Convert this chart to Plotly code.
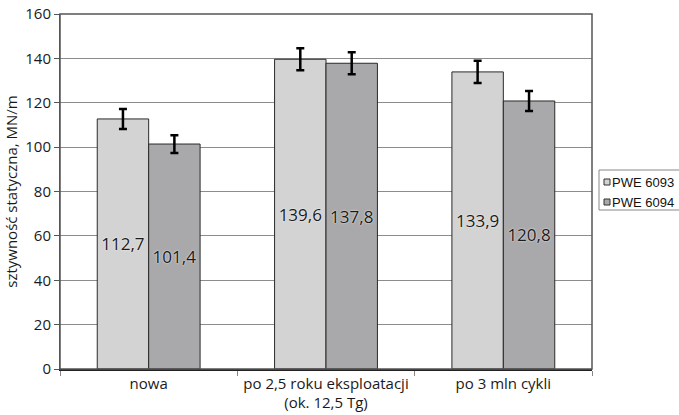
import plotly.graph_objects as go

categories = ["nowa", "po 2,5 roku eksploatacji<br>(ok. 12,5 Tg)", "po 3 mln cykli"]
series_names = ["PWE 6093", "PWE 6094"]
values_6093 = [112.7, 139.6, 133.9]
values_6094 = [101.4, 137.8, 120.8]
errors_6093 = [4.5, 5.0, 5.0]
errors_6094 = [4.0, 5.0, 4.5]
y_ticks = [0, 20, 40, 60, 80, 100, 120, 140, 160]

colors = ["#d3d3d3", "#a9a9ab"]

# plot area in pixels (for placing the hand-made legend in paper coords)
L, R, T, B = 60, 592, 14, 369
def px(x):
    return (x - L) / (R - L)
def py(y):
    return (B - y) / (B - T)

def fmt(v):
    return f"{v:.1f}".replace(".", ",")

fig = go.Figure()
for name, vals, errs, col in [
    (series_names[0], values_6093, errors_6093, colors[0]),
    (series_names[1], values_6094, errors_6094, colors[1]),
]:
    fig.add_trace(go.Bar(
        x=categories, y=vals, name=name, showlegend=False,
        marker=dict(color=col, line=dict(color="#2a2a2a", width=1)),
        error_y=dict(type="data", array=errs, visible=True, color="#000000",
                     thickness=2.5, width=4),
        text=[fmt(v) for v in vals],
        textposition="inside", insidetextanchor="middle",
        textangle=0,
        textfont=dict(family="Open Sans, sans-serif", size=17, color="#1a1a1a",
                      shadow="0px 0px 2px #ffffff"),
    ))

fig.update_layout(
    width=679, height=415,
    margin=dict(l=L, r=679 - R, t=T, b=415 - B, autoexpand=False),
    paper_bgcolor="white", plot_bgcolor="white",
    barmode="group", bargap=0.42, bargroupgap=0,
    font=dict(family="Open Sans, sans-serif", size=15, color="#1a1a1a"),
    showlegend=False,
)
fig.update_xaxes(
    showline=True, linecolor="#222", linewidth=1.5, mirror=False,
    ticks="outside", tickson="boundaries", ticklen=5, tickcolor="#888",
    tickfont=dict(size=15),
)
fig.update_yaxes(
    range=[0, 160], tickvals=y_ticks,
    showgrid=True, gridcolor="#8c8c8c", gridwidth=1,
    showline=True, linecolor="#555", linewidth=1,
    ticks="outside", ticklen=5, tickcolor="#555",
    tickfont=dict(size=15),
    title=dict(text="sztywność statyczna, MN/m", font=dict(size=15), standoff=4),
)
# frame on top/right
fig.add_shape(type="rect", xref="paper", yref="paper", x0=0, x1=1, y0=0, y1=1,
              line=dict(color="#555", width=1.5), layer="above")

# legend (box runs past the right edge as in the reference)
fig.add_shape(type="rect", xref="paper", yref="paper",
              x0=px(599), x1=px(685), y0=py(210), y1=py(170),
              line=dict(color="#888", width=1), fillcolor="white")
for i, (name, col) in enumerate(zip(series_names, colors)):
    cy = 182 + 20 * i
    fig.add_shape(type="rect", xref="paper", yref="paper",
                  x0=px(604), x1=px(610), y0=py(cy + 3), y1=py(cy - 3),
                  line=dict(color="#333", width=1), fillcolor=col)
    fig.add_annotation(xref="paper", yref="paper", x=px(610), y=py(cy),
                       xanchor="left", yanchor="middle", showarrow=False,
                       text=name,
                       font=dict(family="Liberation Sans, Arial, sans-serif",
                                 size=13, color="#111"))

fig.write_html("out.html")
